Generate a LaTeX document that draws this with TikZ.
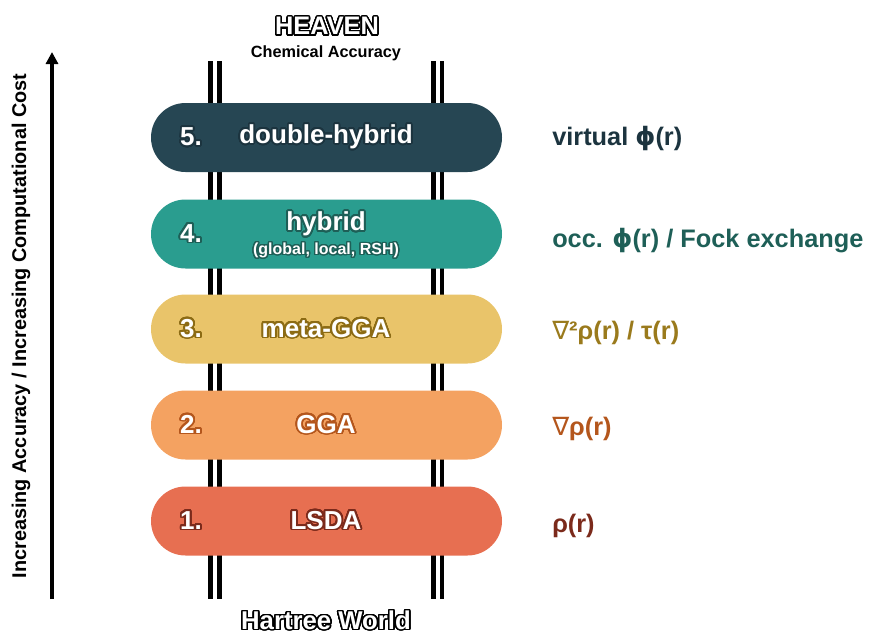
\documentclass[tikz,border=0pt]{standalone}
\usepackage{fontspec}
\setmainfont{Liberation Sans}
\newfontfamily\symfont{DejaVu Sans}
\usepackage[copies]{contour}
\usetikzlibrary{shapes.misc,arrows.meta}

\definecolor{rungfive}{HTML}{264653}
\definecolor{rungfour}{HTML}{2A9D8F}
\definecolor{rungthree}{HTML}{E9C46A}
\definecolor{rungtwo}{HTML}{F4A261}
\definecolor{rungone}{HTML}{E76F51}
\definecolor{edgefive}{HTML}{1C343F}
\definecolor{edgefour}{HTML}{1E5F57}
\definecolor{edgethree}{HTML}{9A7A1C}
\definecolor{edgetwo}{HTML}{B4561C}
\definecolor{edgeone}{HTML}{7B2A1B}
\definecolor{rimthree}{HTML}{8C6B14}

\contourlength{1.3pt}
\contournumber{32}

\begin{document}
\begin{tikzpicture}[x=0.75pt, y=-0.75pt,
    rung/.style={rounded rectangle, minimum width=263.25pt, minimum height=51.75pt, inner sep=0pt},
    rungtext/.style={text=white, font=\bfseries\fontsize{19.5}{21}\selectfont, align=center},
    side/.style={anchor=west, inner sep=0pt, font=\bfseries\fontsize{19}{22}\selectfont},
    rail/.style={line width=3.2pt},
    line/.style={draw, -{Triangle[length=9pt,width=9pt]}, line width=3pt}]

    \useasboundingbox (0,0) rectangle (869,637);

    % the two double rails
    \foreach \rx in {210.5,219.5,433.5,442}
        \draw [rail] (\rx,61) -- (\rx,599);

    % rungs, bottom to top
    \node [rung, fill=rungone]   (r1) at (326.5,521) {};
    \node [rung, fill=rungtwo]   (r2) at (326.5,425) {};
    \node [rung, fill=rungthree] (r3) at (326.5,329) {};
    \node [rung, fill=rungfour]  (r4) at (326.5,234) {};
    \node [rung, fill=rungfive]  (r5) at (326.5,137.5) {};

    \node [rungtext] (n1) at (191,521) {\contour{edgeone}{1.}};
    \node [rungtext] (n2) at (191,425) {\contour{edgetwo}{2.}};
    \node [rungtext] (n3) at (191,329) {\contour{rimthree}{3.}};
    \node [rungtext] (n4) at (191,234) {\contour{edgefour}{4.}};
    \node [rungtext] (n5) at (191,137.5) {\contour{edgefive}{5.}};

    \node [rungtext] (t1) at (326,521) {\contour{edgeone}{LSDA}};
    \node [rungtext] (t2) at (326,425) {\contour{edgetwo}{GGA}};
    \node [rungtext] (t3) at (326,329) {\contour{rimthree}{meta-GGA}};
    \node [rungtext] (t4) at (326,235.5) {\contour{edgefour}{hybrid}\\[-3pt]
        {\fontsize{12}{13}\selectfont\contourlength{1pt}\contour{edgefour}{(global, local, RSH)}}};
    \node [rungtext] (t5) at (326,137.5) {\contour{edgefive}{double-hybrid}};

    % ingredients on the right
    \node [side, text=edgeone]   (i1) at (552,526) {ρ(r)};
    \node [side, text=edgetwo]   (i2) at (552,429) {{\symfont\mdseries ∇}ρ(r)};
    \node [side, text=edgethree] (i3) at (552,333) {{\symfont\mdseries ∇}²ρ(r) / τ(r)};
    \node [side, text=edgefour]  (i4) at (552,241) {occ. {\symfont ϕ}(r) / Fock exchange};
    \node [side, text=edgefive]  (i5) at (552,139) {virtual {\symfont ϕ}(r)};

    % top and bottom
    \node [text=white, font=\bfseries\fontsize{19}{20}\selectfont] (heaven) at (327,27)
        {\contourlength{1.1pt}\contour{black}{HEAVEN}};
    \node [font=\bfseries\fontsize{12.2}{13}\selectfont] (chem) at (326,53) {Chemical Accuracy};
    \node [text=white, font=\bfseries\fontsize{19.3}{20}\selectfont] (hartree) at (326,621)
        {\contourlength{1.1pt}\contour{black}{Hartree World}};

    % accuracy axis
    \coordinate (abot) at (52,599);
    \coordinate (atop) at (52,52);
    \path [line] (abot) -- (atop);
    \node [rotate=90, font=\bfseries\fontsize{14.9}{16}\selectfont] (axis) at (21,326)
        {Increasing Accuracy / Increasing Computational Cost};
\end{tikzpicture}
\end{document}
